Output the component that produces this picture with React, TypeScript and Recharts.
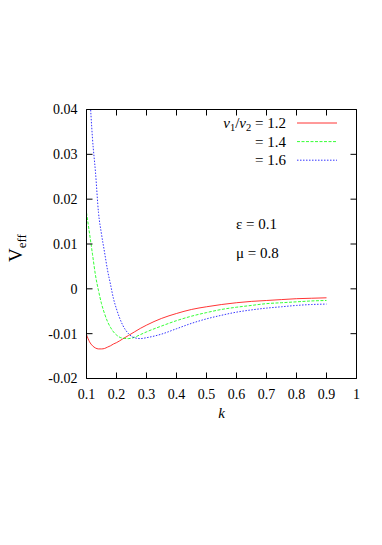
import React from 'react';
import { LineChart, Line, XAxis, YAxis, Legend, Customized } from 'recharts';

const kValues = [0.1, 0.11, 0.12, 0.13, 0.14, 0.15, 0.16, 0.17, 0.18, 0.19, 0.2, 0.22, 0.24, 0.26, 0.28, 0.3, 0.35, 0.4, 0.45, 0.5, 0.55, 0.6, 0.65, 0.7, 0.75, 0.8, 0.85, 0.9];
const v12 = [-0.0102, -0.0118, -0.0127, -0.0132, -0.0134, -0.0134, -0.0133, -0.013, -0.0127, -0.0123, -0.012, -0.0112, -0.0104, -0.0096, -0.0088, -0.0081, -0.0066, -0.0055, -0.0046, -0.004, -0.0035, -0.0031, -0.0028, -0.0026, -0.0024, -0.0022, -0.0021, -0.002];
const v14 = [0.017, 0.0124, 0.0077, 0.003, -0.0004, -0.0033, -0.0055, -0.0073, -0.0086, -0.0096, -0.0103, -0.011, -0.0111, -0.0108, -0.0102, -0.0096, -0.0083, -0.0071, -0.0061, -0.0053, -0.0046, -0.0041, -0.0037, -0.0033, -0.0031, -0.0029, -0.0027, -0.0026];
const v16 = [0.062, 0.045, 0.0335, 0.026, 0.017, 0.0122, 0.0082, 0.0042, 0.001, -0.0022, -0.0045, -0.008, -0.01, -0.0109, -0.0111, -0.0109, -0.0101, -0.0089, -0.0077, -0.0067, -0.0059, -0.0052, -0.0047, -0.0043, -0.004, -0.0037, -0.0035, -0.0034];

const seriesKeys = ['s12', 's14', 's16'];
const seriesValues = ['1.2', '1.4', '1.6'];
const seriesColors = ['#ff0000', '#00ff00', '#0000ff'];
const seriesDashes = [undefined, '3 1.5', '1.5 1.5'];

const xTicks = [0.1, 0.2, 0.3, 0.4, 0.5, 0.6, 0.7, 0.8, 0.9, 1];
const xTickLabels = ['0.1', '0.2', '0.3', '0.4', '0.5', '0.6', '0.7', '0.8', '0.9', '1'];
const yTicks = [-0.02, -0.01, 0, 0.01, 0.02, 0.03, 0.04];
const yTickLabels = ['-0.02', '-0.01', '0', '0.01', '0.02', '0.03', '0.04'];

const xLabel = 'k';
const yLabelMain = 'V';
const yLabelSub = 'eff';
const epsText = 'ε = 0.1';
const muText = 'μ = 0.8';

const data = kValues.map((k, i) => ({ k, s12: v12[i], s14: v14[i], s16: v16[i] }));

const FONT = "'Liberation Serif', 'Times New Roman', Tinos, Times, serif";
const fs = { fontFamily: FONT };
const TICK = 6;

function findLabel(vals: number[], labels: string[], v: number) {
  let best = 0;
  for (let i = 0; i < vals.length; i++) if (Math.abs(vals[i] - v) < Math.abs(vals[best] - v)) best = i;
  return labels[best];
}

function BottomTick(p: any) {
  const { x, y, payload } = p;
  return (
    <g>
      <line x1={x} y1={y} x2={x} y2={y - TICK} stroke="#000" strokeWidth={1} />
      <text x={x} y={y + 20.5} textAnchor="middle" style={fs} fontSize={14} fill="#000">
        {findLabel(xTicks, xTickLabels, payload.value)}
      </text>
    </g>
  );
}
function TopTick(p: any) {
  const { x, y } = p;
  return <line x1={x} y1={y} x2={x} y2={y + TICK} stroke="#000" strokeWidth={1} />;
}
function LeftTick(p: any) {
  const { x, y, payload } = p;
  return (
    <g>
      <line x1={x} y1={y} x2={x + TICK} y2={y} stroke="#000" strokeWidth={1} />
      <text x={x - 9} y={y} dy="0.35em" textAnchor="end" style={fs} fontSize={14} fill="#000">
        {findLabel(yTicks, yTickLabels, payload.value)}
      </text>
    </g>
  );
}
function RightTick(p: any) {
  const { x, y } = p;
  return <line x1={x} y1={y} x2={x - TICK} y2={y} stroke="#000" strokeWidth={1} />;
}

function LegendContent(props: any) {
  const payload = props.payload || [];
  return (
    <svg width={160} height={62} style={{ display: 'block', overflow: 'visible' }}>
      {payload.map((e: any, i: number) => {
        const by = 18 + i * 18.6;
        const idx = seriesKeys.indexOf(e.dataKey) >= 0 ? seriesKeys.indexOf(e.dataKey) : i;
        return (
          <g key={i}>
            <text x={86} y={by} textAnchor="end" style={fs} fontSize={15} fill="#000">
              {idx === 0 ? (
                <>
                  <tspan fontStyle="italic">v</tspan>
                  <tspan fontSize={10.5} dy={3}>1</tspan>
                  <tspan dy={-3}>/</tspan>
                  <tspan fontStyle="italic">v</tspan>
                  <tspan fontSize={10.5} dy={3}>2</tspan>
                  <tspan dy={-3}>{' = ' + seriesValues[idx]}</tspan>
                </>
              ) : (
                '= ' + seriesValues[idx]
              )}
            </text>
            <line
              x1={97}
              x2={137}
              y1={by - 5}
              y2={by - 5}
              stroke={seriesColors[idx]}
              strokeWidth={0.8}
              strokeDasharray={seriesDashes[idx]}
            />
          </g>
        );
      })}
    </svg>
  );
}

function Annotations() {
  return (
    <g style={fs} fill="#000">
      <text x={236} y={228.5} style={fs} fontSize={15}>{epsText}</text>
      <text x={236} y={258} style={fs} fontSize={15}>{muText}</text>
      <text x={221.5} y={418} style={fs} fontSize={15} fontStyle="italic" textAnchor="middle">{xLabel}</text>
      <text transform="translate(22,262) rotate(-90)" style={fs} fontSize={19}>
        <tspan>{yLabelMain}</tspan>
        <tspan fontSize={13} dy={4}>{yLabelSub}</tspan>
      </text>
    </g>
  );
}

export default function App() {
  return (
    <div style={{ position: 'absolute', left: 0, top: 0, width: 382, height: 545, background: '#fff', fontFamily: FONT }}>
      <LineChart
        width={382}
        height={545}
        data={data}
        margin={{ top: 89.5, right: 0.5, bottom: 136.5, left: 0.5 }}
      >
        <XAxis
          xAxisId="b"
          dataKey="k"
          type="number"
          orientation="bottom"
          domain={[0.1, 1]}
          ticks={xTicks}
          allowDataOverflow
          height={30}
          tickSize={0}
          tickMargin={0}
          tickLine={false}
          axisLine={{ stroke: '#000', strokeWidth: 1 }}
          tick={<BottomTick />}
          interval={0}
        />
        <XAxis
          xAxisId="t"
          dataKey="k"
          type="number"
          orientation="top"
          domain={[0.1, 1]}
          ticks={xTicks}
          allowDataOverflow
          height={20}
          tickSize={0}
          tickMargin={0}
          tickLine={false}
          axisLine={{ stroke: '#000', strokeWidth: 1 }}
          tick={<TopTick />}
          interval={0}
        />
        <YAxis
          yAxisId="l"
          type="number"
          orientation="left"
          domain={[-0.02, 0.04]}
          ticks={yTicks}
          allowDataOverflow
          width={86}
          tickSize={0}
          tickMargin={0}
          tickLine={false}
          axisLine={{ stroke: '#000', strokeWidth: 1 }}
          tick={<LeftTick />}
          interval={0}
        />
        <YAxis
          yAxisId="r"
          type="number"
          orientation="right"
          domain={[-0.02, 0.04]}
          ticks={yTicks}
          allowDataOverflow
          width={25}
          tickSize={0}
          tickMargin={0}
          tickLine={false}
          axisLine={{ stroke: '#000', strokeWidth: 1 }}
          tick={<RightTick />}
          interval={0}
        />
        {seriesKeys.map((key, i) => (
          <Line
            key={key}
            xAxisId="b"
            yAxisId="l"
            dataKey={key}
            name={seriesValues[i]}
            type="monotone"
            stroke={seriesColors[i]}
            strokeWidth={0.8}
            strokeDasharray={seriesDashes[i]}
            dot={false}
            activeDot={false}
            isAnimationActive={false}
          />
        ))}
        <Legend
          layout="vertical"
          align="center"
          verticalAlign="middle"
          content={<LegendContent />}
          wrapperStyle={{ left: 200, top: 110, width: 160, height: 62 }}
        />
        <Customized component={<Annotations />} />
      </LineChart>
    </div>
  );
}
